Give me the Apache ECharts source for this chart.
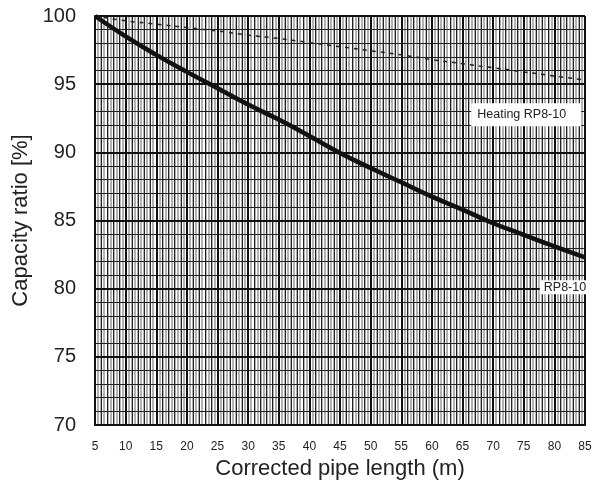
<!DOCTYPE html>
<html>
<head>
<meta charset="utf-8">
<script src="https://cdn.jsdelivr.net/npm/echarts@6/dist/echarts.min.js"></script>
<style>
  html, body { margin: 0; padding: 0; background: #fff; }
  #chart { width: 596px; height: 487px; }
</style>
</head>
<body>
<div id="chart"></div>
<script>
// pipe length (m)
var lengths = [5, 10, 15, 20, 25, 30, 35, 40, 45, 50, 55, 60, 65, 70, 75, 80, 85]
// capacity ratio [%]
var coolingRP810 = [100, 98.5, 97.15, 95.9, 94.7, 93.5, 92.4, 91.2, 89.95, 88.85, 87.8, 86.75, 85.8, 84.8, 83.95, 83.1, 82.3]
var heatingRP810 = [100, 99.65, 99.4, 99.15, 98.9, 98.6, 98.35, 98.05, 97.75, 97.45, 97.15, 96.8, 96.5, 96.2, 95.9, 95.6, 95.3]
var xTicks = [5, 10, 15, 20, 25, 30, 35, 40, 45, 50, 55, 60, 65, 70, 75, 80, 85]
var yTicks = [70, 75, 80, 85, 90, 95, 100]
var labelHeating = { text: 'Heating RP8-10', x: 75.4, y: 92.75 }
var labelCooling = { text: 'RP8-10', x: 81.65, y: 80.1 }

var font = 'Liberation Sans, Arial, sans-serif'
var myChart = echarts.init(document.getElementById('chart'))

function pairs (ys) {
  return lengths.map(function (x, i) { return [x, ys[i]] })
}

function gridAxis (min, max, step, color, width, z) {
  return {
    type: 'value', min: min, max: max, interval: step, z: z,
    axisLine: { show: false }, axisTick: { show: false }, axisLabel: { show: false },
    splitLine: { show: true, lineStyle: { color: color, width: width } }
  }
}

function textMark (lbl, padding) {
  return {
    symbol: 'rect', symbolSize: 1,
    itemStyle: { color: 'rgba(0,0,0,0)' },
    label: {
      show: true, position: 'inside', color: '#222', fontSize: 12.5, fontFamily: font,
      backgroundColor: '#fff', padding: padding,
      formatter: function (p) { return p.name }
    },
    data: [{ name: lbl.text, coord: [lbl.x, lbl.y] }]
  }
}

var option = {
  animation: false,
  grid: { left: 95, right: 11, top: 16, bottom: 62, containLabel: false },
  xAxis: [
    {
      type: 'value', min: xTicks[0], max: xTicks[xTicks.length - 1], interval: 5, z: 5,
      name: 'Corrected pipe length (m)', nameLocation: 'middle', nameGap: 33,
      nameTextStyle: { fontSize: 22, color: '#222', fontFamily: font },
      axisLine: { show: true, lineStyle: { color: '#111', width: 2 } },
      axisTick: { show: false },
      axisLabel: { fontSize: 12, color: '#222', fontFamily: font, margin: 16 },
      splitLine: { show: true, lineStyle: { color: '#111', width: 2 } }
    },
    gridAxis(5, 85, 0.5, '#999', 1.5, 1),
    gridAxis(5, 85, 1, '#222', 1, 2)
  ],
  yAxis: [
    {
      type: 'value', min: yTicks[0], max: yTicks[yTicks.length - 1], interval: 5, z: 5,
      name: 'Capacity ratio [%]', nameLocation: 'middle', nameGap: 62,
      nameTextStyle: { fontSize: 22, color: '#222', fontFamily: font },
      axisLine: { show: true, lineStyle: { color: '#111', width: 2 } },
      axisTick: { show: false },
      axisLabel: { fontSize: 20, color: '#222', fontFamily: font, margin: 19 },
      splitLine: { show: true, lineStyle: { color: '#111', width: 2 } }
    },
    gridAxis(70, 100, 1, '#222', 1, 3)
  ],
  series: [
    {
      name: 'Heating RP8-10',
      type: 'line',
      z: 10,
      symbol: 'none',
      smooth: true,
      lineStyle: { color: '#222', width: 1.5, type: [4, 5] },
      data: pairs(heatingRP810),
      markPoint: textMark(labelHeating, [5, 15, 5, 6])
    },
    {
      name: 'RP8-10',
      type: 'line',
      z: 11,
      symbol: 'none',
      smooth: true,
      lineStyle: { color: '#111', width: 4.5 },
      data: pairs(coolingRP810),
      markPoint: textMark(labelCooling, [1, 3, 0, 4])
    }
  ]
}

option && myChart.setOption(option)
</script>
</body>
</html>
